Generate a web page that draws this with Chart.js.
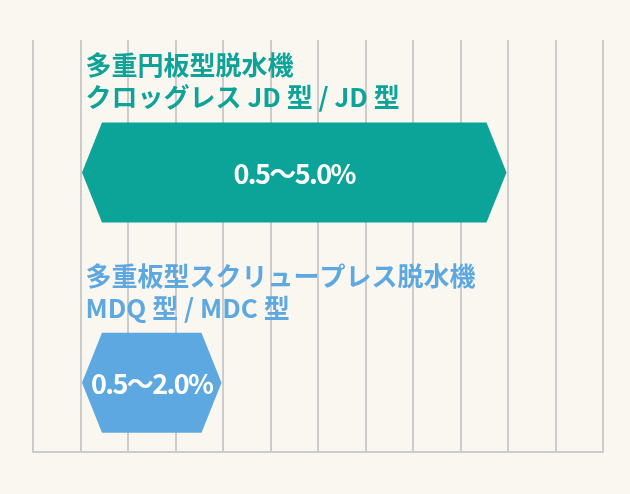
<!DOCTYPE html>
<html lang="ja">
<head>
<meta charset="utf-8">
<title>含水率範囲</title>
<script src="https://cdn.jsdelivr.net/npm/chart.js@4.4.1/dist/chart.umd.min.js"></script>
<style>
    html, body { margin: 0; padding: 0; background: #faf7f0; }
    #wrap { width: 630px; height: 494px; }
</style>
</head>
<body>
<div id="wrap"><canvas id="rangeChart"></canvas></div>
<script>
// product names (two lines each)
const productNames = [
    ['多重円板型脱水機', 'クロッグレス JD 型 / JD 型'],
    ['多重板型スクリュープレス脱水機', 'MDQ 型 / MDC 型']
];
const rows = [1, 2];
const rangeMin = [0.5, 0.5];
const rangeMax = [5.0, 2.0];
const barColors = ['#0ca398', '#5da8e1'];

const FONT = '"Noto Sans CJK JP", "Noto Sans", sans-serif';

// draws each bar as a hexagon plus its labels
const hexBars = {
    id: 'hexBars',
    beforeDatasetDraw() {
        return false; // skip the default rectangles
    },
    afterDatasetsDraw(chart) {
        const ctx = chart.ctx;
        const meta = chart.getDatasetMeta(0);
        meta.data.forEach((bar, i) => {
            const { x, y, base, height } = bar.getProps(['x', 'y', 'base', 'height'], true);
            const left = Math.min(x, base) + 1.5;
            const right = Math.max(x, base) - 1.5;
            const top = y - height / 2;
            const bottom = y + height / 2;
            const tip = 20;

            ctx.save();
            ctx.fillStyle = barColors[i];
            ctx.beginPath();
            ctx.moveTo(left, y);
            ctx.lineTo(left + tip, top);
            ctx.lineTo(right - tip, top);
            ctx.lineTo(right, y);
            ctx.lineTo(right - tip, bottom);
            ctx.lineTo(left + tip, bottom);
            ctx.closePath();
            ctx.fill();

            // range text inside
            ctx.fillStyle = '#ffffff';
            ctx.font = 'bold 27px ' + FONT;
            ctx.textAlign = 'center';
            ctx.textBaseline = 'middle';
            ctx.letterSpacing = '-1.6px';
            const txt = rangeMin[i].toFixed(1) + '〜' + rangeMax[i].toFixed(1) + '%';
            ctx.fillText(txt, (left + right) / 2, y + 1);

            // product name above
            ctx.letterSpacing = '0px';
            ctx.font = 'bold 26px ' + FONT;
            ctx.fillStyle = barColors[i];
            ctx.textAlign = 'left';
            ctx.fillText(productNames[i][0], base + 5, top - 57);
            ctx.fillText(productNames[i][1], base + 5, top - 25);
            ctx.restore();
        });
    }
};

new Chart(document.getElementById('rangeChart'), {
    type: 'bar',
    data: {
        datasets: [{
            data: rows.map((r, i) => ({ x: [rangeMin[i], rangeMax[i]], y: r })),
            backgroundColor: barColors,
            barThickness: 100
        }]
    },
    options: {
        indexAxis: 'y',
        responsive: true,
        maintainAspectRatio: false,
        animation: false,
        layout: {
            padding: { left: 33, right: 27, top: 40, bottom: 42 }
        },
        plugins: {
            legend: { display: false },
            tooltip: { enabled: false }
        },
        scales: {
            x: {
                type: 'linear',
                min: 0,
                max: 6,
                ticks: { display: false, stepSize: 0.5 },
                grid: { color: '#cccccc', lineWidth: 2, drawTicks: false },
                border: { display: true, color: '#cccccc', width: 2 }
            },
            y: {
                type: 'linear',
                reverse: true,
                offset: false,
                min: 0.37,
                max: 2.33,
                display: false
            }
        }
    },
    plugins: [hexBars]
});
</script>
</body>
</html>
